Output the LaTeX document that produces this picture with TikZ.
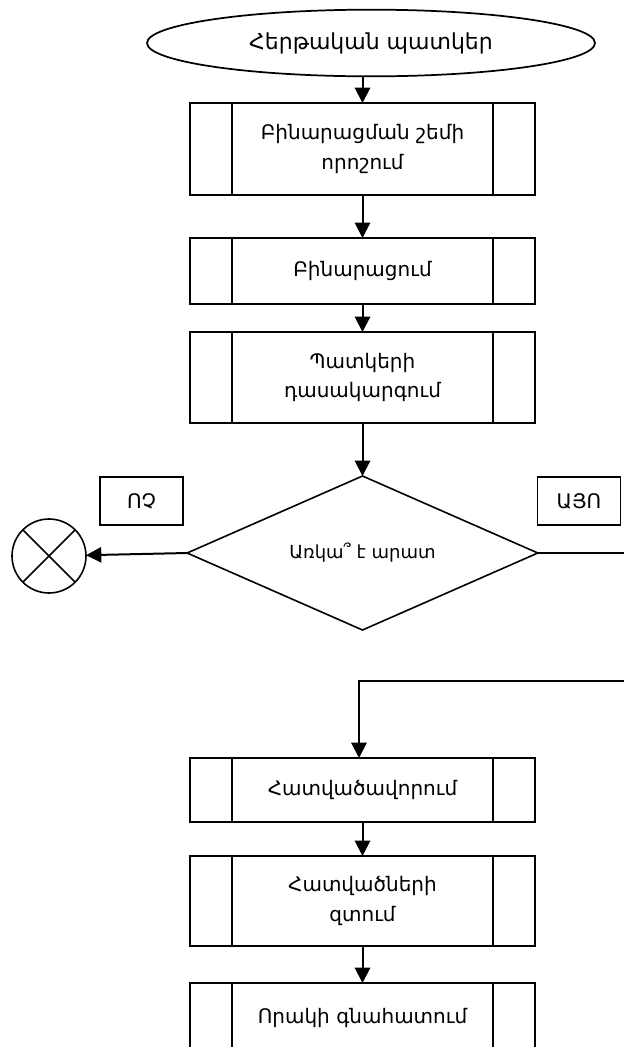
\documentclass[tikz,border=0pt]{standalone}
\usepackage{fontspec}
\setmainfont{DejaVu Sans}
\usetikzlibrary{arrows.meta,positioning,shapes.geometric}
\tikzset{
  startblock/.style={draw, ellipse, line width=1.3pt, outer sep=0pt, minimum width=336pt, minimum height=50pt, inner sep=0pt, font=\fontsize{16.5}{20}\selectfont},
  procblock/.style={draw, rectangle, line width=1.5pt, outer sep=0pt, align=center, minimum width=259pt, inner sep=0pt, font=\fontsize{15}{22}\selectfont,
    path picture={\draw[line width=1.1pt] ([xshift=31.5pt]path picture bounding box.north west) -- ([xshift=31.5pt]path picture bounding box.south west)
      ([xshift=-31.5pt]path picture bounding box.north east) -- ([xshift=-31.5pt]path picture bounding box.south east);}},
  decisionblock/.style={draw, diamond, aspect=2.28, line width=1.2pt, outer sep=0pt, minimum width=263pt, minimum height=115.5pt, inner sep=0pt, font=\fontsize{13.5}{16}\selectfont},
  answerblock/.style={draw, rectangle, line width=1.2pt, outer sep=0pt, minimum width=62pt, minimum height=36pt, inner sep=0pt, font=\fontsize{15}{18}\selectfont},
  stopblock/.style={draw, circle, line width=1.2pt, outer sep=0pt, minimum size=55.5pt, inner sep=0pt,
    path picture={\draw[line width=1.2pt] (path picture bounding box.north west) -- (path picture bounding box.south east)
      (path picture bounding box.north east) -- (path picture bounding box.south west);}},
  arrow/.style={-{Triangle[length=11.5pt,width=11.5pt]}, line width=1.5pt},
  plainline/.style={line width=1.5pt}
}

\begin{document}
\begin{tikzpicture}[x=0.75pt, y=-0.75pt]
    \clip (0,0) rectangle (624,1047);

    \node[startblock] (input) at (371,43) {Հերթական պատկեր};
    \node[procblock, minimum height=69pt] (thresh) at (362.5,149) {Բինարացման շեմի\\որոշում};
    \node[procblock, minimum height=49.5pt, below=32.25pt of thresh] (binar) {Բինարացում};
    \node[procblock, minimum height=68.25pt, below=21pt of binar] (classif) {Պատկերի\\դասակարգում};
    \node[decisionblock, below=39.75pt of classif] (check) {Առկա՞ է արատ};
    \node[answerblock] (nolbl) at (141.5,501) {ՈՉ};
    \node[answerblock] (yeslbl) at (579,501) {ԱՅՈ};
    \node[stopblock] (stop) at (49,556) {};
    \node[procblock, minimum height=48pt, below=96pt of check] (segm) {Հատվածավորում};
    \node[procblock, minimum height=67.5pt, below=25.5pt of segm] (filt) {Հատվածների\\զտում};
    \node[procblock, minimum height=52pt, below=27.75pt of filt] (quality) {Որակի գնահատում};

    \coordinate (outR) at (640,553);
    \coordinate (backR) at (640,681);
    \coordinate (backL) at (359,681);

    \draw[arrow] (thresh.north |- input.south) -- (thresh);
    \draw[arrow] (thresh) -- (binar);
    \draw[arrow] (binar) -- (classif);
    \draw[arrow] (classif) -- (check);
    \draw[arrow] (check.west) -- (stop);
    \draw[plainline] (check.east) -- (check.east -| outR);
    \draw[arrow] (backR) -- (backL) -- (backL |- segm.north);
    \draw[arrow] (segm) -- (filt);
    \draw[arrow] (filt) -- (quality);
  \end{tikzpicture}
\end{document}
